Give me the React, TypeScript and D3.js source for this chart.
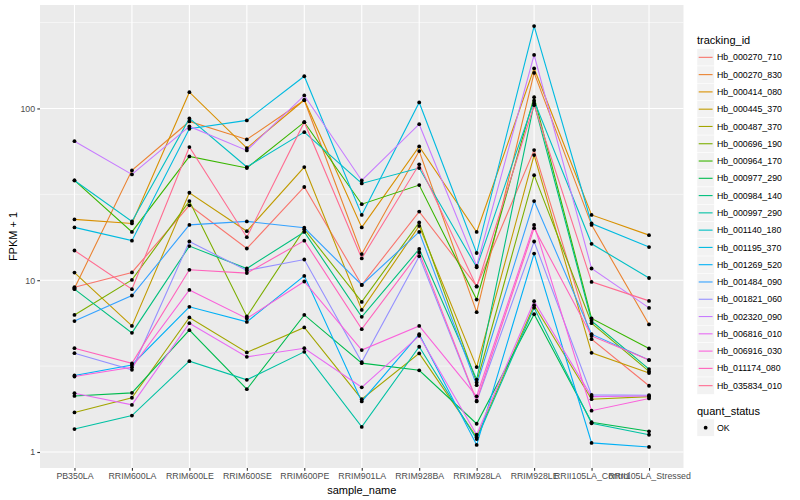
import React, { useEffect, useRef } from "react";
import * as d3 from "d3";

const samples = [
  "PB350LA",
  "RRIM600LA",
  "RRIM600LE",
  "RRIM600SE",
  "RRIM600PE",
  "RRIM901LA",
  "RRIM928BA",
  "RRIM928LA",
  "RRIM928LE",
  "RRII105LA_Control",
  "RRII105LA_Stressed",
];

const trackingIds = [
  "Hb_000270_710",
  "Hb_000270_830",
  "Hb_000414_080",
  "Hb_000445_370",
  "Hb_000487_370",
  "Hb_000696_190",
  "Hb_000964_170",
  "Hb_000977_290",
  "Hb_000984_140",
  "Hb_000997_290",
  "Hb_001140_180",
  "Hb_001195_370",
  "Hb_001269_520",
  "Hb_001484_090",
  "Hb_001821_060",
  "Hb_002320_090",
  "Hb_006816_010",
  "Hb_006916_030",
  "Hb_011174_080",
  "Hb_035834_010",
];

// ggplot2 default hue palette for 20 levels
const lineColors = [
  "#F8766D", "#EA8331", "#D89000", "#C09B00", "#A3A500",
  "#7CAE00", "#39B600", "#00BB4E", "#00BF7D", "#00C1A3",
  "#00BFC4", "#00BAE0", "#00B0F6", "#35A2FF", "#9590FF",
  "#C77CFF", "#E76BF3", "#FA62DB", "#FF62BC", "#FF6C91",
];

// FPKM + 1, one value per sample (same order as samples)
const hb_000270_710 = [9.11, 11.1, 27.3, 15.3, 34.9, 9.39, 25.1, 9.23, 57.2, 4.54, 2.43];
const hb_000270_830 = [8.98, 43.6, 84.0, 66.0, 111.7, 14.2, 56.5, 6.52, 161, 21.0, 5.53];
const hb_000414_080 = [22.6, 21.4, 124.4, 58.8, 112, 20.3, 60.1, 19.1, 171, 24.0, 18.3];
const hb_000445_370 = [11.08, 5.42, 32.3, 19.3, 45.6, 6.72, 20.7, 3.12, 53.5, 3.78, 2.88];
const hb_000487_370 = [1.7, 2.07, 6.07, 3.8, 5.31, 2.03, 3.75, 1.22, 7.15, 2.03, 2.1];
const hb_000696_190 = [6.28, 10.04, 28.9, 6.15, 19.8, 7.48, 21.7, 2.54, 40.9, 5.62, 2.95];
const hb_000964_170 = [38.1, 19.1, 52.6, 45.0, 83.2, 27.7, 35.8, 7.72, 116.3, 5.99, 4.01];
const hb_000977_290 = [2.12, 2.21, 5.12, 2.32, 6.28, 3.29, 2.99, 1.46, 6.34, 1.49, 1.32];
const hb_000984_140 = [8.87, 4.94, 15.8, 11.7, 19.1, 6.12, 15.2, 2.64, 106.9, 5.8, 3.04];
const hb_000997_290 = [1.36, 1.63, 3.38, 2.63, 3.83, 1.4, 4.1, 1.19, 6.92, 1.47, 1.26];
const hb_001140_180 = [38.1, 22.0, 87.5, 45.6, 72.8, 36.6, 45.0, 11.9, 110.9, 16.3, 10.3];
const hb_001195_370 = [20.3, 17.0, 76.2, 85.2, 154, 24.0, 108.4, 14.4, 301.8, 21.4, 15.6];
const hb_001269_520 = [2.79, 3.21, 7.0, 5.72, 10.6, 1.97, 4.85, 1.1, 14.3, 1.13, 1.07];
const hb_001484_090 = [5.78, 8.15, 21.0, 22.0, 20.2, 9.39, 19.1, 2.45, 28.9, 4.85, 3.43];
const hb_001821_060 = [3.76, 3.01, 16.8, 11.4, 13.2, 3.34, 13.8, 1.97, 16.8, 2.15, 2.14];
const hb_002320_090 = [64.5, 41.3, 78.6, 57.0, 119, 38.1, 81.0, 12.1, 205, 11.7, 6.9];
const hb_006816_010 = [2.2, 1.88, 5.62, 3.58, 4.02, 2.38, 4.75, 1.26, 7.55, 2.1, 2.12];
const hb_006916_030 = [2.75, 3.11, 8.78, 5.99, 9.83, 3.92, 5.42, 2.11, 21.0, 1.74, 2.05];
const hb_011174_080 = [4.02, 3.28, 11.5, 11.0, 17.0, 5.19, 14.5, 1.99, 20.1, 4.74, 3.43];
const hb_035834_010 = [14.9, 8.87, 59.6, 17.8, 83.2, 13.4, 47.3, 9.17, 104.5, 9.78, 7.58];

const seriesValues = [
  hb_000270_710, hb_000270_830, hb_000414_080, hb_000445_370, hb_000487_370,
  hb_000696_190, hb_000964_170, hb_000977_290, hb_000984_140, hb_000997_290,
  hb_001140_180, hb_001195_370, hb_001269_520, hb_001484_090, hb_001821_060,
  hb_002320_090, hb_006816_010, hb_006916_030, hb_011174_080, hb_035834_010,
];

const yTicks = [1, 10, 100];
const statusLevels = ["OK"];

const FONT = '"Liberation Sans", Arial, Helvetica, sans-serif';
const margin = { left: 40, right: 683.5, top: 5, bottom: 468 };

const FpkmChart: React.FC<{ width?: number; height?: number }> = ({
  width = 800,
  height = 500,
}) => {
  const ref = useRef<SVGSVGElement | null>(null);

  useEffect(() => {
    if (!ref.current) return;
    const svg = d3.select(ref.current);
    svg.selectAll("*").remove();
    svg.style("font-family", FONT);

    const x = d3
      .scalePoint<string>()
      .domain(samples)
      .range([margin.left, margin.right])
      .padding(0.6);

    // log scale with ggplot's 5% expansion (in log space)
    const all = seriesValues.flat();
    const lo = Math.log10(d3.min(all)!);
    const hi = Math.log10(d3.max(all)!);
    const pad = (hi - lo) * 0.05;
    const y = d3
      .scaleLog()
      .domain([10 ** (lo - pad), 10 ** (hi + pad)])
      .range([margin.bottom, margin.top]);

    svg.append("rect").attr("width", width).attr("height", height).attr("fill", "#fff");

    svg
      .append("rect")
      .attr("x", margin.left)
      .attr("y", margin.top)
      .attr("width", margin.right - margin.left)
      .attr("height", margin.bottom - margin.top)
      .attr("fill", "#EBEBEB");

    const [d0, d1] = y.domain();
    const minor = [-0.5, 0.5, 1.5, 2.5, 3.5]
      .map((e) => 10 ** e)
      .filter((v) => v >= d0 && v <= d1);

    const grid = svg.append("g");
    grid
      .selectAll("line.minor")
      .data(minor)
      .enter()
      .append("line")
      .attr("x1", margin.left)
      .attr("x2", margin.right)
      .attr("y1", (d) => y(d))
      .attr("y2", (d) => y(d))
      .attr("stroke", "#fff")
      .attr("stroke-width", 0.55);
    grid
      .selectAll("line.major")
      .data(yTicks)
      .enter()
      .append("line")
      .attr("x1", margin.left)
      .attr("x2", margin.right)
      .attr("y1", (d) => y(d))
      .attr("y2", (d) => y(d))
      .attr("stroke", "#fff")
      .attr("stroke-width", 1.1);
    grid
      .selectAll("line.vert")
      .data(samples)
      .enter()
      .append("line")
      .attr("x1", (d) => x(d)!)
      .attr("x2", (d) => x(d)!)
      .attr("y1", margin.top)
      .attr("y2", margin.bottom)
      .attr("stroke", "#fff")
      .attr("stroke-width", 1.1);

    const line = d3
      .line<number>()
      .x((_, i) => x(samples[i])!)
      .y((d) => y(d));

    svg
      .append("g")
      .selectAll("path")
      .data(seriesValues)
      .enter()
      .append("path")
      .attr("d", (d) => line(d))
      .attr("fill", "none")
      .attr("stroke", (_, i) => lineColors[i])
      .attr("stroke-width", 1.1);

    const pts = seriesValues.flatMap((vals) =>
      vals.map((v, i) => ({ s: samples[i], v }))
    );
    svg
      .append("g")
      .selectAll("circle")
      .data(pts)
      .enter()
      .append("circle")
      .attr("cx", (d) => x(d.s)!)
      .attr("cy", (d) => y(d.v))
      .attr("r", 1.9)
      .attr("fill", "#000");

    // axes
    const yAxis = svg
      .append("g")
      .attr("transform", `translate(${margin.left},0)`)
      .call(
        d3
          .axisLeft(y)
          .tickValues(yTicks)
          .tickFormat(d3.format("d") as any)
          .tickSize(2.7)
          .tickPadding(2.2)
      );
    const xAxis = svg
      .append("g")
      .attr("transform", `translate(0,${margin.bottom})`)
      .call(d3.axisBottom(x).tickSize(2.7).tickPadding(2.2));
    [xAxis, yAxis].forEach((ax) => {
      ax.select(".domain").remove();
      ax.selectAll(".tick line").attr("stroke", "#333333").attr("stroke-width", 1.1);
      ax.selectAll(".tick text")
        .attr("fill", "#4D4D4D")
        .style("font-size", "8.8px")
        .style("font-family", FONT);
    });

    svg
      .append("text")
      .attr("x", (margin.left + margin.right) / 2)
      .attr("y", 494)
      .attr("text-anchor", "middle")
      .style("font-size", "11px")
      .text("sample_name");
    svg
      .append("text")
      .attr("transform", `translate(17,${(margin.top + margin.bottom) / 2}) rotate(-90)`)
      .attr("text-anchor", "middle")
      .style("font-size", "11px")
      .text("FPKM + 1");

    // legends
    const keySize = 17.28;
    const lx = 697;
    const leg = svg.append("g");
    leg
      .append("text")
      .attr("x", lx)
      .attr("y", 44)
      .style("font-size", "11px")
      .text("tracking_id");
    const items = leg
      .selectAll("g.item")
      .data(trackingIds)
      .enter()
      .append("g")
      .attr("transform", (_, i) => `translate(${lx},${48.7 + i * keySize})`);
    items
      .append("rect")
      .attr("width", keySize)
      .attr("height", keySize)
      .attr("fill", "#F2F2F2")
      .attr("stroke", "#fff")
      .attr("stroke-width", 0.5);
    items
      .append("line")
      .attr("x1", 1.7)
      .attr("x2", keySize - 1.7)
      .attr("y1", keySize / 2)
      .attr("y2", keySize / 2)
      .attr("stroke", (_, i) => lineColors[i])
      .attr("stroke-width", 1.1);
    items
      .append("text")
      .attr("x", keySize + 2.6)
      .attr("y", keySize / 2 + 3.1)
      .style("font-size", "8.8px")
      .text((d) => d);

    leg
      .append("text")
      .attr("x", lx)
      .attr("y", 415)
      .style("font-size", "11px")
      .text("quant_status");
    const st = leg
      .selectAll("g.status")
      .data(statusLevels)
      .enter()
      .append("g")
      .attr("transform", (_, i) => `translate(${lx},${419 + i * keySize})`);
    st.append("rect")
      .attr("width", keySize)
      .attr("height", keySize)
      .attr("fill", "#F2F2F2")
      .attr("stroke", "#fff")
      .attr("stroke-width", 0.5);
    st.append("circle")
      .attr("cx", keySize / 2)
      .attr("cy", keySize / 2)
      .attr("r", 1.9)
      .attr("fill", "#000");
    st.append("text")
      .attr("x", keySize + 2.6)
      .attr("y", keySize / 2 + 3.1)
      .style("font-size", "8.8px")
      .text((d) => d);
  }, [width, height]);

  return <svg ref={ref} width={width} height={height} style={{ display: "block" }}></svg>;
};

export default function App() {
  return (
    <>
      <style>{"body{margin:0}"}</style>
      <FpkmChart />
    </>
  );
}
